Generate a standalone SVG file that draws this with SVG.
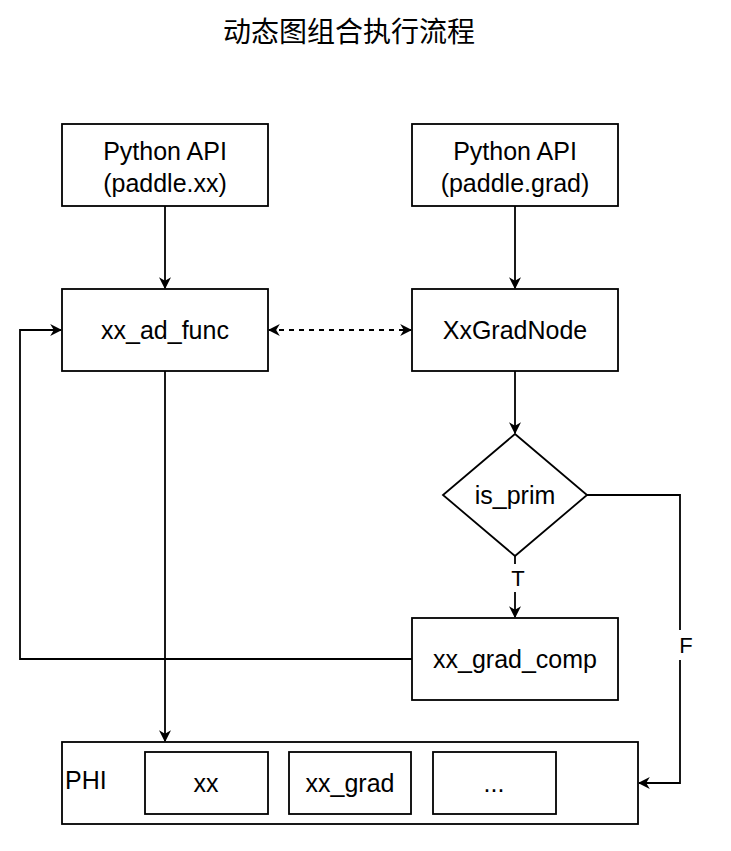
<svg xmlns="http://www.w3.org/2000/svg" width="731" height="851" viewBox="0 0 731 851">
<defs>
<marker id="ah" viewBox="0 0 10 10" refX="9" refY="5" markerWidth="12" markerHeight="12" markerUnits="userSpaceOnUse" orient="auto-start-reverse">
<path d="M0,0 L10,5 L0,10 L3,5 Z" fill="#000"/>
</marker>
<style>
.box{fill:#fff;stroke:#000;stroke-width:1.8}
.t{font-family:"Liberation Sans",Arial,sans-serif;font-size:25px;fill:#000;text-anchor:middle;dominant-baseline:central}
.c{fill:none;stroke:#000;stroke-width:1.8}
</style>
</defs>
<rect width="731" height="851" fill="#fff"/>
<text x="349" y="30" class="t" style="font-family:'Noto Sans CJK SC',sans-serif;font-size:28px">动态图组合执行流程</text>
<g id="connectors">
<line class="c" x1="165" y1="206" x2="165" y2="288" marker-end="url(#ah)"/>
<line class="c" x1="515" y1="206" x2="515" y2="288" marker-end="url(#ah)"/>
<line class="c" x1="515" y1="371" x2="515" y2="433" marker-end="url(#ah)"/>
<line class="c" x1="515" y1="556" x2="515" y2="617" marker-end="url(#ah)"/>
<line class="c" x1="165" y1="371" x2="165" y2="741" marker-end="url(#ah)"/>
<polyline class="c" points="412,659 20,659 20,330 61,330" marker-end="url(#ah)"/>
<polyline class="c" points="587,495 680,495 680,783 639,783" marker-end="url(#ah)"/>
<line class="c" x1="269" y1="330" x2="411" y2="330" stroke-dasharray="5,5" marker-start="url(#ah)" marker-end="url(#ah)"/>
<rect x="508" y="564" width="20" height="28" fill="#fff"/>
<text x="518" y="578" class="t" style="font-size:22px">T</text>
<rect x="675" y="630" width="20" height="30" fill="#fff"/>
<text x="686" y="645" class="t" style="font-size:22px">F</text>
</g>
<g id="api1">
<rect class="box" x="62" y="124" width="206" height="82"/>
<text x="165" y="151" class="t">Python API</text>
<text x="165" y="183" class="t">(paddle.xx)</text>
</g>
<g id="api2">
<rect class="box" x="412" y="124" width="206" height="82"/>
<text x="515" y="151" class="t">Python API</text>
<text x="515" y="183" class="t">(paddle.grad)</text>
</g>
<g id="xx_ad_func">
<rect class="box" x="62" y="289" width="206" height="82"/>
<text x="165" y="330" class="t">xx_ad_func</text>
</g>
<g id="XxGradNode">
<rect class="box" x="412" y="289" width="206" height="82"/>
<text x="515" y="330" class="t">XxGradNode</text>
</g>
<g id="is_prim">
<polygon class="box" points="515,434 587,495 515,556 443,495"/>
<text x="515" y="495" class="t">is_prim</text>
</g>
<g id="xx_grad_comp">
<rect class="box" x="412" y="618" width="206" height="82"/>
<text x="515" y="659" class="t">xx_grad_comp</text>
</g>
<g id="PHI">
<rect class="box" x="62" y="742" width="576" height="82"/>
<text x="65" y="780" class="t" style="text-anchor:start">PHI</text>
</g>
<g id="xx">
<rect class="box" x="145" y="752" width="123" height="62"/>
<text x="206" y="783" class="t">xx</text>
</g>
<g id="xx_grad">
<rect class="box" x="289" y="752" width="122" height="62"/>
<text x="350" y="783" class="t">xx_grad</text>
</g>
<g id="etc">
<rect class="box" x="433" y="752" width="123" height="62"/>
<text x="494" y="783" class="t">...</text>
</g>
</svg>
